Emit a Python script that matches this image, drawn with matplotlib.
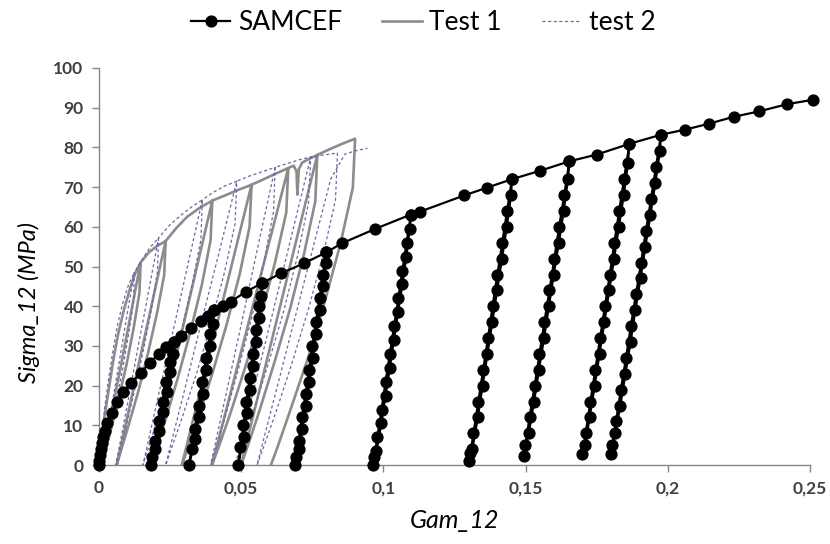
import matplotlib
matplotlib.use("Agg")
from matplotlib import pyplot as plt

# ---------------------------------------------------------------
# SAMCEF : enveloppe + cycles decharge / recharge (ordre du calcul)
samcef_env0 = [(0, 0), (0.0002, 1), (0.0005, 2.5), (0.0008, 4), (0.0012, 5.5), (0.0016, 7),
               (0.0022, 8.5), (0.003, 10.5), (0.0045, 13), (0.0065, 16), (0.0085, 18.3),
               (0.0115, 20.8), (0.0147, 23.2), (0.018, 25.8), (0.021, 28), (0.0238, 29.8), (0.0264, 31)]
samcef_cyc1 = [(0.0251, 26), (0.0238, 21), (0.0224, 16), (0.0211, 11), (0.0198, 6), (0.0187, 2), (0.0182, 0),
               (0.0199, 4), (0.0212, 8.5), (0.0226, 13.5), (0.0239, 18.5), (0.0252, 23.5), (0.0261, 28), (0.0264, 31)]
samcef_env1 = [(0.029, 32.6), (0.0325, 34.5), (0.0358, 36.2), (0.0385, 37.6), (0.0405, 39)]
samcef_cyc2 = [(0.0391, 33), (0.0378, 27), (0.0364, 21), (0.0351, 15), (0.0337, 9), (0.0326, 4), (0.0317, 0),
               (0.0339, 6.5), (0.0351, 12), (0.0365, 18), (0.0378, 24), (0.0392, 30), (0.0402, 35.5), (0.0405, 39)]
samcef_env2 = [(0.0435, 40), (0.0464, 41.2), (0.0516, 43.6), (0.0573, 45.8)]
samcef_cyc3 = [(0.0562, 40), (0.0552, 34), (0.0541, 28), (0.0530, 22), (0.0519, 16), (0.0508, 10), (0.0498, 4.5),
               (0.049, 0), (0.0509, 7), (0.0521, 13), (0.0532, 19), (0.0543, 25), (0.0554, 31), (0.0564, 37),
               (0.0571, 42.5), (0.0573, 45.8)]
samcef_env3 = [(0.064, 48.3), (0.0721, 50.8), (0.0800, 53.6)]
samcef_cyc4 = [(0.0788, 48), (0.0776, 42), (0.0763, 36), (0.0751, 30), (0.0739, 24), (0.0727, 18), (0.0714, 12),
               (0.0702, 6), (0.0694, 2), (0.069, 0), (0.0703, 4), (0.0715, 9), (0.0728, 15), (0.0740, 21),
               (0.0752, 27), (0.0764, 33), (0.0776, 39), (0.0788, 45), (0.0798, 51), (0.0800, 53.6)]
samcef_env4 = [(0.0856, 55.9), (0.0972, 59.5), (0.1097, 63.1)]
samcef_cyc5 = [(0.1082, 56), (0.1067, 49), (0.1053, 42), (0.1038, 35), (0.1023, 28), (0.1008, 21), (0.0994, 14),
               (0.0979, 7), (0.0968, 2), (0.0964, 0), (0.0976, 3.5), (0.0993, 10.5), (0.1008, 17.5), (0.1023, 24.5),
               (0.1037, 31.5), (0.1052, 38.5), (0.1067, 45.5), (0.1081, 52.5), (0.1093, 59.5), (0.1097, 63.1)]
samcef_env5 = [(0.1128, 63.8), (0.1284, 67.9), (0.1366, 69.9), (0.1452, 72)]
samcef_cyc6 = [(0.1435, 64), (0.1418, 56), (0.1401, 48), (0.1384, 40), (0.1368, 32), (0.1351, 24), (0.1334, 16),
               (0.1317, 8), (0.1306, 3), (0.1302, 1), (0.1313, 4), (0.1332, 12), (0.1349, 20), (0.1366, 28),
               (0.1383, 36), (0.1400, 44), (0.1417, 52), (0.1434, 60), (0.1449, 68), (0.1452, 72)]
samcef_env6 = [(0.155, 74.1), (0.1654, 76.5)]
samcef_cyc7 = [(0.1636, 68), (0.1618, 60), (0.1601, 52), (0.1584, 44), (0.1566, 36), (0.1549, 28), (0.1532, 20),
               (0.1514, 12), (0.1499, 5), (0.1493, 2.2), (0.1511, 8), (0.1530, 16), (0.1547, 24), (0.1565, 32),
               (0.1582, 40), (0.1599, 48), (0.1617, 56), (0.1634, 64), (0.1649, 72), (0.1654, 76.5)]
samcef_env7 = [(0.175, 78.2), (0.1865, 80.9)]
samcef_cyc8 = [(0.1846, 72), (0.1829, 64), (0.1812, 56), (0.1796, 48), (0.1779, 40), (0.1762, 32), (0.1745, 24),
               (0.1728, 16), (0.1711, 8), (0.1700, 2.8), (0.1710, 5), (0.1725, 12), (0.1743, 20), (0.1760, 28),
               (0.1777, 36), (0.1794, 44), (0.1811, 52), (0.1828, 60), (0.1845, 68), (0.1860, 76), (0.1865, 80.9)]
samcef_env8 = [(0.1976, 83.2)]
samcef_cyc9 = [(0.1958, 75), (0.1941, 67), (0.1923, 59), (0.1906, 51), (0.1888, 43), (0.1870, 35), (0.1853, 27),
               (0.1835, 19), (0.1818, 11), (0.1805, 5), (0.1800, 2.8), (0.1816, 8), (0.1833, 15), (0.1851, 23),
               (0.1869, 31), (0.1886, 39), (0.1904, 47), (0.1921, 55), (0.1939, 63), (0.1956, 71), (0.1972, 79),
               (0.1976, 83.2)]
samcef_env9 = [(0.2062, 84.5), (0.2146, 86), (0.2231, 87.7), (0.2322, 89.1), (0.242, 90.9), (0.251, 92)]

# ---------------------------------------------------------------
# Test 1 (essai) : pics, decharges puis recharges
test1_env0 = [(0, 0), (0.001, 6), (0.002, 12), (0.0035, 19), (0.005, 26), (0.0068, 33), (0.0088, 39),
              (0.011, 44.5), (0.0128, 48.3), (0.0147, 51)]
test1_cyc1 = [(0.0143, 43.4), (0.0123, 34.7), (0.0098, 25.5), (0.0070, 16.8), (0.0042, 8.7), (0.0021, 3.1),
              (0.001, 0), (0.0044, 12.75), (0.0079, 25.5), (0.0113, 38.25), (0.0147, 51)]
test1_env1 = [(0.0175, 53.5), (0.0205, 55.2), (0.0235, 56.4)]
test1_cyc2 = [(0.0230, 47.9), (0.0205, 38.4), (0.0173, 28.2), (0.0139, 18.6), (0.0103, 9.6), (0.0077, 3.4),
              (0.0063, 0), (0.0106, 14), (0.0148, 28), (0.0191, 42), (0.0235, 56.4)]
test1_env2 = [(0.027, 59.5), (0.031, 62.5), (0.0355, 64.8), (0.0399, 66.6)]
test1_cyc3 = [(0.0393, 56.6), (0.0362, 45.3), (0.0321, 33.3), (0.0278, 22), (0.0234, 11.3), (0.0201, 4),
              (0.0183, 0), (0.0237, 16.65), (0.0291, 33.3), (0.0345, 49.95), (0.0399, 66.6)]
test1_env3 = [(0.044, 67.8), (0.049, 69.3), (0.0537, 70.6)]
test1_cyc4 = [(0.0530, 60), (0.0495, 48), (0.0449, 35.3), (0.0400, 23.3), (0.0350, 12), (0.0313, 4.2),
              (0.0292, 0), (0.0353, 17.65), (0.0415, 35.3), (0.0476, 52.95), (0.0537, 70.6)]
test1_env4 = [(0.058, 72), (0.0625, 73.5), (0.0666, 74.8)]
test1_cyc5 = [(0.0659, 63.6), (0.0619, 50.9), (0.0569, 37.4), (0.0515, 24.7), (0.0461, 12.7), (0.0421, 4.5),
              (0.0398, 0), (0.0465, 18.7), (0.0532, 37.4), (0.0599, 56.1), (0.0666, 74.8)]
test1_env5 = [(0.0685, 75.4), (0.0695, 74), (0.0698, 68.1), (0.0703, 74.5), (0.0715, 76.2), (0.0742, 77.2),
              (0.0768, 78.1)]
test1_cyc6 = [(0.0761, 66.4), (0.0721, 53.1), (0.0671, 39), (0.0617, 25.8), (0.0563, 13.3), (0.0523, 4.7),
              (0.050, 0), (0.0567, 19.5), (0.0634, 39), (0.0701, 58.6), (0.0768, 78.1)]
test1_env6 = [(0.081, 79.5), (0.0855, 80.9), (0.0901, 82.2)]
test1_cyc7 = [(0.0893, 69.9), (0.0850, 55.9), (0.0794, 41.1), (0.0736, 27.1), (0.0674, 14), (0.0630, 4.9),
              (0.0605, 0)]

# ---------------------------------------------------------------
# test 2 (essai)
test2_env0 = [(0, 0), (0.001, 7), (0.002, 14), (0.0033, 21), (0.0048, 28), (0.0065, 35), (0.0085, 41),
              (0.0105, 45.5), (0.0125, 48.5)]
test2_cyc1 = [(0.0122, 41.2), (0.0105, 33), (0.0084, 24.3), (0.0061, 16), (0.0038, 8.2), (0.0020, 2.9),
              (0.001, 0), (0.0039, 12.1), (0.0068, 24.3), (0.0096, 36.4), (0.0125, 48.5)]
test2_env1 = [(0.015, 51.5), (0.018, 54.8), (0.021, 57.2)]
test2_cyc2 = [(0.0206, 48.6), (0.0184, 38.9), (0.0156, 28.6), (0.0126, 18.9), (0.0096, 9.7), (0.0073, 3.4),
              (0.006, 0), (0.0098, 14.3), (0.0135, 28.6), (0.0173, 42.9), (0.021, 57.2)]
test2_env2 = [(0.025, 60.5), (0.029, 63), (0.033, 65.2), (0.0364, 66.8)]
test2_cyc3 = [(0.0359, 56.8), (0.0328, 45.4), (0.0289, 33.4), (0.0247, 22), (0.0205, 11.4), (0.0173, 4),
              (0.0155, 0), (0.0207, 16.7), (0.0260, 33.4), (0.0312, 50.1), (0.0364, 66.8)]
test2_env3 = [(0.040, 68.6), (0.044, 70.2), (0.0485, 71.5)]
test2_cyc4 = [(0.0479, 60.8), (0.0442, 48.6), (0.0395, 35.8), (0.0346, 23.6), (0.0294, 12.2), (0.0256, 4.3),
              (0.0235, 0), (0.0298, 17.9), (0.0360, 35.8), (0.0423, 53.6), (0.0485, 71.5)]
test2_env4 = [(0.053, 72.8), (0.0575, 73.9), (0.062, 75)]
test2_cyc5 = [(0.0614, 63.8), (0.0580, 51), (0.0539, 37.5), (0.0493, 24.8), (0.0447, 12.8), (0.0413, 4.5),
              (0.0393, 0), (0.0450, 18.75), (0.0507, 37.5), (0.0563, 56.25), (0.062, 75)]
test2_env5 = [(0.0665, 76), (0.071, 77), (0.0745, 77.6)]
test2_cyc6 = [(0.0737, 66), (0.0699, 52.8), (0.0650, 38.8), (0.0596, 25.6), (0.0542, 13.2), (0.0502, 4.7),
              (0.048, 0), (0.0546, 19.4), (0.0613, 38.8), (0.0679, 58.2), (0.0745, 77.6)]
test2_env6 = [(0.079, 78.1), (0.0839, 78.6)]
test2_cyc7 = [(0.0832, 66.8), (0.0790, 53.4), (0.0737, 39.3), (0.0680, 25.9), (0.0623, 13.4), (0.0580, 4.7),
              (0.0556, 0), (0.0610, 15), (0.0664, 30), (0.0718, 45), (0.0772, 60), (0.0815, 72),
              (0.0865, 78.3), (0.0905, 79.2), (0.0944, 79.8)]

xticks = [0, 0.05, 0.1, 0.15, 0.2, 0.25]
xtick_labels = ["0", "0,05", "0,1", "0,15", "0,2", "0,25"]
yticks = [0, 10, 20, 30, 40, 50, 60, 70, 80, 90, 100]


def assemble(*segments):
    xs, ys = [], []
    for seg in segments:
        for x, y in seg:
            xs.append(x)
            ys.append(y)
    return xs, ys


samcef_x, samcef_y = assemble(samcef_env0, samcef_cyc1, samcef_env1, samcef_cyc2, samcef_env2, samcef_cyc3,
                              samcef_env3, samcef_cyc4, samcef_env4, samcef_cyc5, samcef_env5, samcef_cyc6,
                              samcef_env6, samcef_cyc7, samcef_env7, samcef_cyc8, samcef_env8, samcef_cyc9,
                              samcef_env9)
test1_x, test1_y = assemble(test1_env0, test1_cyc1, test1_env1, test1_cyc2, test1_env2, test1_cyc3, test1_env3,
                            test1_cyc4, test1_env4, test1_cyc5, test1_env5, test1_cyc6, test1_env6, test1_cyc7)
test2_x, test2_y = assemble(test2_env0, test2_cyc1, test2_env1, test2_cyc2, test2_env2, test2_cyc3, test2_env3,
                            test2_cyc4, test2_env4, test2_cyc5, test2_env5, test2_cyc6, test2_env6, test2_cyc7)

plt.rcParams['font.family'] = ['Lato', 'DejaVu Sans']

fig = plt.figure(figsize=(8.3, 5.44), dpi=100)
ax = fig.add_axes([0.119, 0.145, 0.857, 0.73])

ax.plot(samcef_x, samcef_y, color='black', lw=1.6, marker='o', markersize=7.8,
        label='SAMCEF', clip_on=False, zorder=3)
ax.plot(test1_x, test1_y, color='#8c8c8c', lw=1.9, label='Test 1', zorder=2)
ax.plot(test2_x, test2_y, color='#7a62a8', lw=0.9, dashes=(2.5, 2), label='test 2', zorder=2)

ax.set_xlim(0, 0.25)
ax.set_ylim(0, 100)
ax.set_xticks(xticks)
ax.set_xticklabels(xtick_labels)
ax.set_yticks(yticks)

for s in ['top', 'right']:
    ax.spines[s].set_visible(False)
for s in ['left', 'bottom']:
    ax.spines[s].set_color('#868686')
    ax.spines[s].set_linewidth(1)
ax.tick_params(direction='out', length=5, width=1, color='#868686', labelsize=12.5,
               labelcolor='#404040', pad=6)
for lab in ax.get_xticklabels() + ax.get_yticklabels():
    lab.set_fontweight('bold')

ax.set_xlabel('Gam_12', fontsize=18, style='italic', labelpad=9)
ax.set_ylabel('Sigma_12 (MPa)', fontsize=17, style='italic')
ax.yaxis.set_label_coords(-0.083, 0.41)

fig.legend(loc='upper center', bbox_to_anchor=(0.51, 1.025), ncol=3, frameon=False, fontsize=19,
           handlelength=1.5, handletextpad=0.3, columnspacing=1.5)

fig.savefig('out.png', dpi=100)
